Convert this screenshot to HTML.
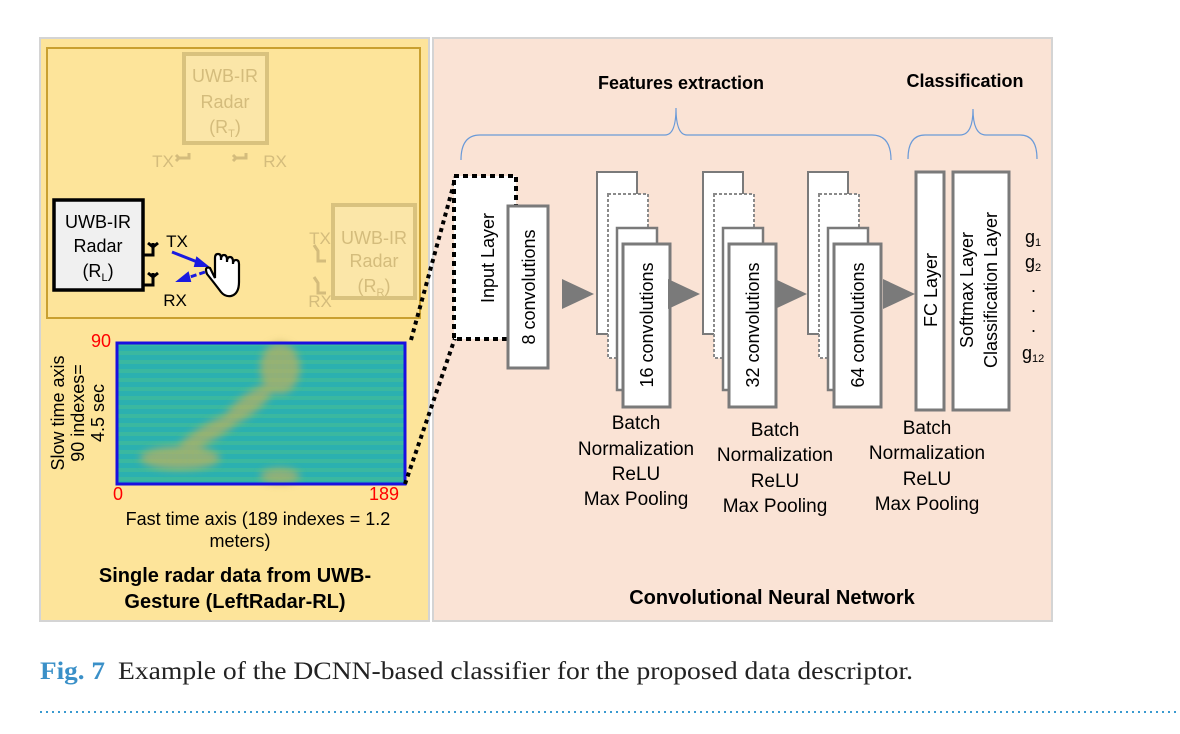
<!DOCTYPE html>
<html><head><meta charset="utf-8"><style>
html,body{margin:0;padding:0;background:#fff;width:1180px;height:734px;overflow:hidden}
svg{display:block}
text{font-family:"Liberation Sans",Arial,sans-serif}
</style></head><body>
<svg width="1180" height="734" viewBox="0 0 1180 734" xmlns="http://www.w3.org/2000/svg">
<defs>
<pattern id="stripes" width="10" height="9" patternUnits="userSpaceOnUse">
<rect width="10" height="9" fill="#2bb0b0"/><rect y="0" width="10" height="4" fill="#3ab8a0"/>
</pattern>
<pattern id="ripple" width="4" height="8" patternUnits="userSpaceOnUse">
<rect width="4" height="8" fill="#d8b840"/><rect width="2" height="8" fill="#9aa878"/>
</pattern>
<filter id="bl" x="-50%" y="-50%" width="200%" height="200%"><feGaussianBlur stdDeviation="4"/></filter>
</defs>
<rect x="40" y="38" width="389" height="583" fill="#fde49a" stroke="#d4d4d4" stroke-width="2"/>
<rect x="433" y="38" width="619" height="583" fill="#fae3d5" stroke="#d4d4d4" stroke-width="2"/>
<rect x="47" y="48" width="373" height="270" fill="none" stroke="#c9a030" stroke-width="2"/>

<rect x="184" y="54" width="83" height="89" fill="#fbe6a8" stroke="#d9c27e" stroke-width="4"/>
<rect x="333" y="205" width="82" height="93" fill="#fbe6a8" stroke="#d9c27e" stroke-width="4"/>
<g fill="#d4bc7c" font-size="18" text-anchor="middle">
<text x="225" y="82">UWB-IR</text><text x="225" y="108">Radar</text><text x="225" y="133">(R<tspan font-size="11" dy="4">T</tspan><tspan dy="-4">)</tspan></text>
<text x="163" y="167" font-size="17">TX</text><text x="275" y="167" font-size="17">RX</text>
<text x="374" y="244">UWB-IR</text><text x="374" y="267">Radar</text><text x="374" y="292">(R<tspan font-size="11" dy="4">R</tspan><tspan dy="-4">)</tspan></text>
<text x="320" y="244" font-size="17">TX</text><text x="320" y="307" font-size="17">RX</text>
</g>
<path d="M179 158 h10 v-5 M179 158 l-3 -3 M179 158 l-3 3 M236 158 h10 v-5 M236 158 l-3 -3 M236 158 l-3 3" stroke="#d4bc7c" stroke-width="3" fill="none"/>
<path d="M314 245 l4 6 v10 h8 M314 277 l4 6 v10 h8" stroke="#d4bc7c" stroke-width="3" fill="none"/>

<rect x="54" y="200" width="89" height="90" fill="#f0f0f0" stroke="#000" stroke-width="3.5"/>
<g font-size="18" text-anchor="middle" fill="#000">
<text x="98" y="228">UWB-IR</text><text x="98" y="252">Radar</text><text x="98" y="277">(R<tspan font-size="11" dy="4">L</tspan><tspan dy="-4">)</tspan></text>
<text x="177" y="247" font-size="17">TX</text><text x="175" y="306" font-size="17">RX</text>
</g>
<path d="M143 255 h10 v-12 M148 243 l5 4 l5 -4 M143 285 h10 v-12 M148 273 l5 4 l5 -4" stroke="#000" stroke-width="3" fill="none"/>
<path d="M172 252 L205 265" stroke="#1a1ae0" stroke-width="3"/><path d="M207 266 l-10 -8 l-2 8 z" fill="#1a1ae0" stroke="#1a1ae0" stroke-width="2"/>
<path d="M205 272 L190 277" stroke="#1a1ae0" stroke-width="3" stroke-dasharray="6 3"/><path d="M178 281 l10 -8 l2 8 z" fill="#1a1ae0" stroke="#1a1ae0" stroke-width="2"/>
<path d="M210 268 q-6 -2 -3 6 q8 10 14 18 q4 5 10 4 q8 -2 8 -14 v-18 q0 -4 -3 -4 q-3 0 -3 4 v-2 q0 -5 -3 -5 q-3 0 -3 5 v-2 q0 -5 -3 -5 q-3 0 -3 5 v-2 q0 -4 -3 -4 q-3 0 -3 4 v20 z" fill="#fff" stroke="#000" stroke-width="2.2"/>

<rect x="117" y="343" width="288" height="141" fill="url(#stripes)"/>
<g filter="url(#bl)" opacity="0.7">
<ellipse cx="280" cy="368" rx="20" ry="26" fill="url(#ripple)"/>
<ellipse cx="248" cy="405" rx="32" ry="10" fill="url(#ripple)" transform="rotate(-38 248 405)"/>
<ellipse cx="210" cy="432" rx="38" ry="9" fill="url(#ripple)" transform="rotate(-30 210 432)"/>
<ellipse cx="180" cy="458" rx="40" ry="12" fill="url(#ripple)"/>
<ellipse cx="280" cy="476" rx="20" ry="8" fill="url(#ripple)"/>
</g>
<rect x="117" y="343" width="288" height="141" fill="none" stroke="#1a10e0" stroke-width="3"/>
<g font-size="18" fill="#ff0000"><text x="91" y="347">90</text><text x="113" y="500">0</text><text x="369" y="500">189</text></g>
<g font-size="18" fill="#000" text-anchor="middle">
<text transform="translate(64 413) rotate(-90)">Slow time axis</text>
<text transform="translate(84 413) rotate(-90)">90 indexes=</text>
<text transform="translate(104 413) rotate(-90)">4.5 sec</text>
<text x="258" y="525">Fast time axis (189 indexes = 1.2</text><text x="240" y="547">meters)</text>
<text x="235" y="582" font-weight="bold" font-size="20">Single radar data from UWB-</text>
<text x="235" y="608" font-weight="bold" font-size="20">Gesture (LeftRadar-RL)</text>
</g>
<path d="M411 340 L456 176 M405 484 L455 338" stroke="#000" stroke-width="4" stroke-dasharray="4 4"/>

<g font-size="18" fill="#000" text-anchor="middle">
<text x="681" y="89" font-weight="bold">Features extraction</text>
<text x="965" y="87" font-weight="bold">Classification</text>
</g>
<path d="M461 160 Q461 135 480 135 H665 Q676 135 676 108 Q676 135 687 135 H872 Q891 135 891 160" fill="none" stroke="#6a9ad8" stroke-width="1.2"/>
<path d="M908 159 Q908 135 925 135 H960 Q973 135 973 109 Q973 135 986 135 H1020 Q1037 135 1037 159" fill="none" stroke="#6a9ad8" stroke-width="1.2"/>

<rect x="454" y="176" width="62" height="163" fill="#fff" stroke="#000" stroke-width="4" stroke-dasharray="5 4"/>
<text transform="translate(494 258) rotate(-90)" font-size="18" text-anchor="middle">Input Layer</text>
<rect x="508" y="206" width="40" height="162" fill="#fff" stroke="#7a7a7a" stroke-width="3"/>
<text transform="translate(535 287) rotate(-90)" font-size="18" text-anchor="middle">8 convolutions</text>

<g>
<rect x="597" y="172" width="40" height="162" fill="#fff" stroke="#7a7a7a" stroke-width="2"/>
<rect x="608" y="194" width="40" height="164" fill="#fff" stroke="#8a8a8a" stroke-width="2" stroke-dasharray="3 2"/>
<rect x="617" y="228" width="40" height="162" fill="#fff" stroke="#7a7a7a" stroke-width="2.5"/>
<rect x="623" y="244" width="47" height="163" fill="#fff" stroke="#7a7a7a" stroke-width="3"/>
</g>
<g transform="translate(106 0)">
<rect x="597" y="172" width="40" height="162" fill="#fff" stroke="#7a7a7a" stroke-width="2"/>
<rect x="608" y="194" width="40" height="164" fill="#fff" stroke="#8a8a8a" stroke-width="2" stroke-dasharray="3 2"/>
<rect x="617" y="228" width="40" height="162" fill="#fff" stroke="#7a7a7a" stroke-width="2.5"/>
<rect x="623" y="244" width="47" height="163" fill="#fff" stroke="#7a7a7a" stroke-width="3"/>
</g>
<g transform="translate(211 0)">
<rect x="597" y="172" width="40" height="162" fill="#fff" stroke="#7a7a7a" stroke-width="2"/>
<rect x="608" y="194" width="40" height="164" fill="#fff" stroke="#8a8a8a" stroke-width="2" stroke-dasharray="3 2"/>
<rect x="617" y="228" width="40" height="162" fill="#fff" stroke="#7a7a7a" stroke-width="2.5"/>
<rect x="623" y="244" width="47" height="163" fill="#fff" stroke="#7a7a7a" stroke-width="3"/>
</g>
<g font-size="18" text-anchor="middle">
<text transform="translate(653 325) rotate(-90)">16 convolutions</text>
<text transform="translate(759 325) rotate(-90)">32 convolutions</text>
<text transform="translate(864 325) rotate(-90)">64 convolutions</text>
</g>
<g fill="#7a7a7a">
<path d="M562 279 L594 294 L562 309 Z"/><path d="M668 279 L700 294 L668 309 Z"/>
<path d="M775 279 L807 294 L775 309 Z"/><path d="M883 279 L915 294 L883 309 Z"/>
</g>
<rect x="916" y="172" width="28" height="238" fill="#fff" stroke="#7a7a7a" stroke-width="3"/>
<text transform="translate(937 290) rotate(-90)" font-size="18" text-anchor="middle">FC Layer</text>
<rect x="953" y="172" width="56" height="238" fill="#fff" stroke="#7a7a7a" stroke-width="3"/>
<text transform="translate(973 290) rotate(-90)" font-size="18" text-anchor="middle">Softmax Layer</text>
<text transform="translate(997 290) rotate(-90)" font-size="18" text-anchor="middle">Classification Layer</text>
<g font-size="18"><text x="1025" y="243">g<tspan font-size="11" dy="3">1</tspan></text>
<text x="1025" y="268">g<tspan font-size="11" dy="3">2</tspan></text>
<text x="1031" y="292">.</text><text x="1031" y="312">.</text><text x="1031" y="332">.</text>
<text x="1022" y="359">g<tspan font-size="11" dy="3">12</tspan></text></g>
<g font-size="19" text-anchor="middle">
<text x="636" y="429">Batch</text><text x="636" y="455">Normalization</text><text x="636" y="480">ReLU</text><text x="636" y="505">Max Pooling</text>
<text x="775" y="436">Batch</text><text x="775" y="461">Normalization</text><text x="775" y="487">ReLU</text><text x="775" y="512">Max Pooling</text>
<text x="927" y="434">Batch</text><text x="927" y="459">Normalization</text><text x="927" y="485">ReLU</text><text x="927" y="510">Max Pooling</text>
<text x="772" y="604" font-size="20" font-weight="bold">Convolutional Neural Network</text>
</g>

<text x="40" y="679" font-size="25" fill="#3a90c8" font-weight="bold" style="font-family:'Liberation Serif','DejaVu Serif',serif" textLength="65" lengthAdjust="spacingAndGlyphs">Fig. 7</text>
<text x="118" y="679" font-size="25" fill="#222" style="font-family:'Liberation Serif','DejaVu Serif',serif" textLength="795" lengthAdjust="spacingAndGlyphs">Example of the DCNN-based classifier for the proposed data descriptor.</text>
<line x1="40" y1="712" x2="1180" y2="712" stroke="#3a9ad0" stroke-width="2" stroke-dasharray="2 4"/>
</svg>
</body></html>
